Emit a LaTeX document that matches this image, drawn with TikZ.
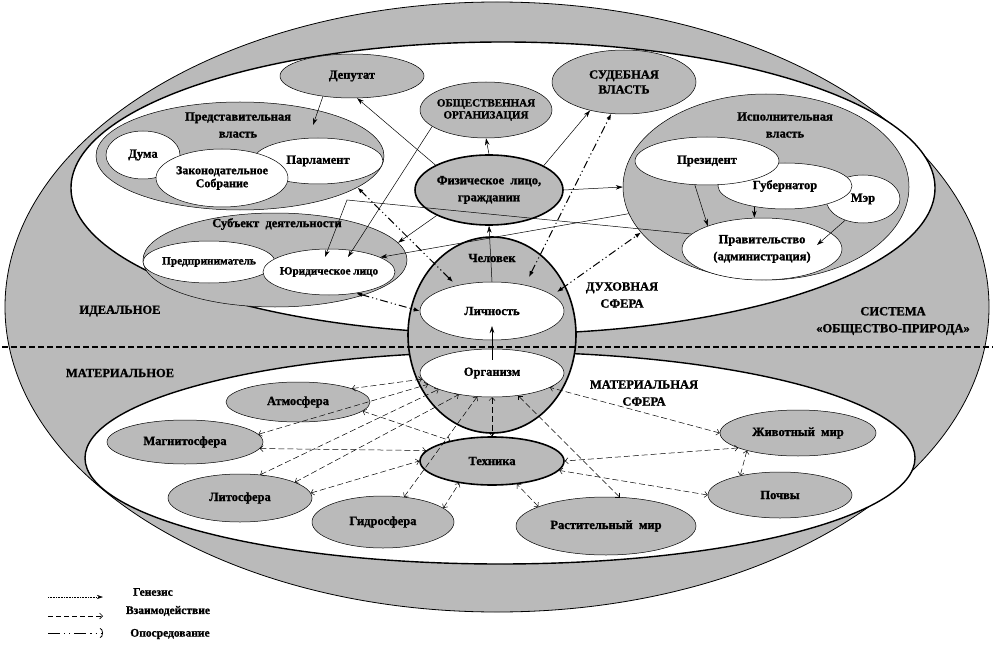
\documentclass[tikz,border=0pt]{standalone}
\usepackage{fontspec}
\setmainfont{Liberation Serif}[BoldFeatures={FakeBold=1.2}]
\usetikzlibrary{shapes.geometric,arrows.meta,calc}

\begin{document}
\begin{tikzpicture}[x=1pt,y=-1pt,
  oval/.style={ellipse,draw,fill=black!27,line width=0.5pt,inner sep=-6pt,
    font=\bfseries\fontsize{12.5}{17}\selectfont,align=center},
  woval/.style={oval,fill=white},
  thick oval/.style={oval,line width=1.6pt},
  lbl/.style={font=\bfseries\fontsize{12.5}{17}\selectfont,align=center,inner sep=0pt},
  gen/.style={line width=0.5pt,-{Stealth[length=7pt,width=4.5pt]}},
  mid/.style={line width=1pt,dash pattern=on 8pt off 3pt on 1.2pt off 3pt on 1.2pt off 3pt,
    {Latex[length=6pt,width=4.5pt]}-{Latex[length=6pt,width=4.5pt]}},
  inter/.style={line width=0.5pt,dash pattern=on 6pt off 3pt,
    {Straight Barb[length=3pt,width=6pt]}-{Straight Barb[length=3pt,width=6pt]}}]
\useasboundingbox (0,0) rectangle (998,647);
% spheres
\filldraw[fill=black!27,line width=0.8pt] (497,307) ellipse [x radius=492pt,y radius=305pt];
\filldraw[fill=white,line width=1.4pt] (503,188) ellipse [x radius=432pt,y radius=146pt];
\filldraw[fill=white,line width=1.4pt] (500,458) ellipse [x radius=415pt,y radius=106pt];
% ideal sphere
\node[oval,minimum width=144pt,minimum height=44pt] (dep) at (352,76) {Депутат};
\node[oval,minimum width=288pt,minimum height=108pt] (pred) at (240,156) {};
\node[woval,minimum width=74pt,minimum height=48pt] (duma) at (143,155) {Дума};
\node[woval,minimum width=130pt,minimum height=46pt] (parl) at (318,161) {Парламент};
\node[woval,minimum width=132pt,minimum height=58pt,font=\bfseries\fontsize{12}{13}\selectfont] (zak) at (222,178) {Законодательное\\Собрание};
\node[oval,minimum width=132pt,minimum height=56pt,font=\bfseries\fontsize{11}{12}\selectfont] (obsh) at (486,110) {ОБЩЕСТВЕННАЯ\\ОРГАНИЗАЦИЯ};
\node[oval,minimum width=144pt,minimum height=64pt,font=\bfseries\fontsize{12.5}{15}\selectfont] (sud) at (624,82) {СУДЕБНАЯ\\ВЛАСТЬ};
\node[thick oval,minimum width=148pt,minimum height=70pt] (fiz) at (489,190) {Физическое\ \ лицо,\\гражданин};
\node[oval,minimum width=286pt,minimum height=186pt] (ispoln) at (766,187) {};
\node[woval,minimum width=74pt,minimum height=48pt] (mer) at (863,199) {Мэр};
\node[woval,minimum width=134pt,minimum height=46pt] (gub) at (785,186) {Губернатор};
\node[woval,minimum width=144pt,minimum height=48pt] (prez) at (707,161) {Президент};
\node[woval,minimum width=160pt,minimum height=62pt] (prav) at (762,249) {Правительство\\(администрация)};
\node[oval,minimum width=264pt,minimum height=94pt] (subj) at (275,260) {};
\node[woval,minimum width=132pt,minimum height=42pt,font=\bfseries\fontsize{11.3}{13}\selectfont] (predpr) at (209,262) {Предприниматель};
\node[woval,minimum width=132pt,minimum height=46pt,font=\bfseries\fontsize{11.2}{13}\selectfont] (jur) at (329,272) {Юридическое лицо};
% man
\node[thick oval,minimum width=168pt,minimum height=196pt] (chel) at (492,335) {};
\node[woval,minimum width=144pt,minimum height=58pt] (lich) at (492,311) {Личность};
\node[woval,minimum width=144pt,minimum height=48pt] (org) at (492,373) {Организм};
\draw[line width=1.3pt,dash pattern=on 6pt off 3pt] (2,347) -- (993,347);
% material sphere
\node[oval,minimum width=144pt,minimum height=40pt] (atm) at (298,402) {Атмосфера};
\node[oval,minimum width=156pt,minimum height=44pt] (magn) at (185,442) {Магнитосфера};
\node[oval,minimum width=144pt,minimum height=48pt] (lito) at (240,498) {Литосфера};
\node[oval,minimum width=142pt,minimum height=52pt] (gidro) at (383,522) {Гидросфера};
\node[thick oval,minimum width=144pt,minimum height=48pt] (tech) at (492,461) {Техника};
\node[oval,minimum width=180pt,minimum height=58pt] (rast) at (606,526) {Растительный\ \ мир};
\node[oval,minimum width=156pt,minimum height=46pt] (zhiv) at (798,433) {Животный\ \ мир};
\node[oval,minimum width=144pt,minimum height=46pt] (pochv) at (780,495) {Почвы};
% labels
\node[lbl] (pred-t) at (238,125) {Представительная\\власть};
\node[lbl] (ispoln-t) at (785,125) {Исполнительная\\власть};
\node[lbl] (subj-t) at (277,224) {Субъект\ \ деятельности};
\node[lbl] (chel-t) at (492,258) {Человек};
\node[lbl] (ideal) at (120,311) {ИДЕАЛЬНОЕ};
\node[lbl] (mater) at (120,373) {МАТЕРИАЛЬНОЕ};
\node[lbl] (dukh) at (622,295) {ДУХОВНАЯ\\СФЕРА};
\node[lbl] (sist) at (893,321) {СИСТЕМА\\«ОБЩЕСТВО-ПРИРОДА»};
\node[lbl] (msf) at (644,393) {МАТЕРИАЛЬНАЯ\\СФЕРА};
% genesis
\draw[gen] (fiz.155) -- (dep.283);
\draw[gen] (dep.215) -- ($(pred)+(73,-31)$);
\draw[gen] (fiz.north) -- (obsh.south);
\draw[gen] (fiz.24) -- (sud.220);
\draw[gen] (fiz.east) -- (ispoln.west);
\draw[gen] (fiz.206) -- (subj.8);
\draw[gen] (obsh.197) -- ($(jur)+(19,-15)$);
\draw[gen] (ispoln.191) -- (jur.16);
\coordinate (knee) at (347,200);
\draw[gen,{Stealth[length=7pt,width=4.5pt]}-] ($(jur)+(-4,-15)$) -- (knee) -- (prav.168);
\draw[gen] (prez.243) -- (prav.157);
\draw[gen] (gub.214) -- (gub.214 |- prav.north);
\draw[gen] (mer.230) -- ($(prav)+(55,-4)$);
\draw[gen] (lich.north) -- (fiz.south);
\draw[gen,{Stealth[length=7pt,width=4.5pt]}-] ($(lich)+(0,15)$) -- ($(org)+(0,-13)$);
% mediation
\draw[mid] ($(chel)+(-39,-53)$) -- (pred.345);
\draw[mid] (jur.322) -- (lich.west);
\draw[mid] ($(chel)+(37,-58)$) -- (sud.248);
\draw[mid] ($(chel)+(65,-43)$) -- (ispoln.200);
% interaction
\draw[inter] (atm.14) -- (org.185);
\draw[inter] (magn.6) -- (org.190);
\draw[inter] (lito.49) -- (org.197);
\draw[inter] (lito.16) -- (org.213);
\draw[inter] (atm.352) -- (tech.154);
\draw[inter] (magn.355) -- (tech.171);
\draw[inter] (lito.4) -- (tech.180);
\draw[inter] (gidro.50) -- (org.238);
\draw[inter] (gidro.13) -- (tech.214);
\draw[inter] (org.south) -- (tech.north);
\draw[inter] (rast.65) -- (org.319);
\draw[inter] (rast.164) -- (tech.317);
\draw[inter] (zhiv.west) -- (org.346);
\draw[inter] (zhiv.194) -- (tech.east);
\draw[inter] (pochv.west) -- (tech.352);
\draw[inter] (zhiv.199) -- (pochv.154);
% legend
\coordinate (g1) at (48,597);
\coordinate (g2) at (103,597);
\coordinate (w1) at (48,616);
\coordinate (w2) at (103,616);
\coordinate (o1) at (48,633);
\coordinate (o2) at (103,633);
\draw[line width=0.6pt,densely dotted,-{Stealth[length=6pt,width=4pt]}] (g1) -- (g2);
\draw[line width=0.6pt,dash pattern=on 5pt off 3pt,-{Straight Barb[length=3pt,width=6pt]}] (w1) -- (w2);
\draw[line width=0.8pt,dash pattern=on 12pt off 4pt on 1.2pt off 4pt on 1.2pt off 4pt,-{Arc Barb[length=3pt,width=10pt]}] (o1) -- (o2);
\node[lbl,font=\bfseries\fontsize{11.5}{13}\selectfont] (leg-g) at (153,592) {Генезис};
\node[lbl,font=\bfseries\fontsize{11.5}{13}\selectfont] (leg-w) at (168,611) {Взаимодействие};
\node[lbl,font=\bfseries\fontsize{11.5}{13}\selectfont] (leg-o) at (170,634) {Опосредование};
\end{tikzpicture}
\end{document}
